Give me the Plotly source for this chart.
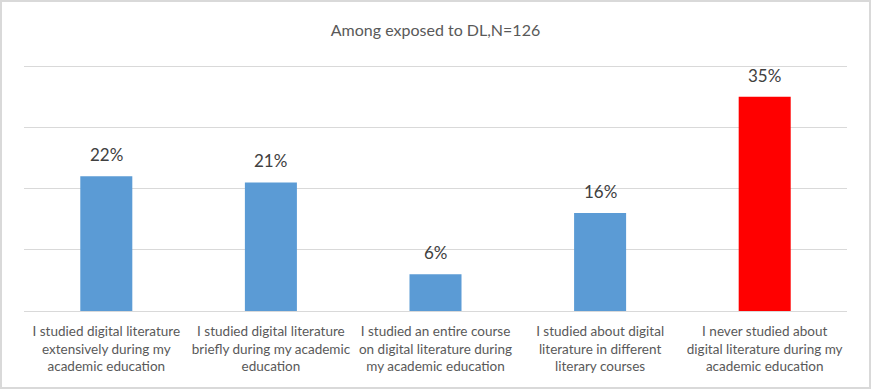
import plotly.graph_objects as go

categories = [
    "I studied digital literature<br>extensively during my<br>academic education",
    "I studied digital literature<br>briefly during my academic<br>education",
    "I studied an entire course<br>on digital literature during<br>my academic education",
    "I studied about digital<br>literature in different<br>literary courses",
    "I never studied about<br>digital literature during my<br>academic education",
]
values = [22, 21, 6, 16, 35]
labels = ["22%", "21%", "6%", "16%", "35%"]
colors = ["#5B9BD5", "#5B9BD5", "#5B9BD5", "#5B9BD5", "#FF0000"]

FONT = "Lato"
W, H = 871, 389
ML, MR, MT, MB = 24, 24, 63, 78

fig = go.Figure()
fig.add_trace(go.Bar(x=categories, y=values, marker_color=colors, marker_line_width=0, width=0.316,
                     hoverinfo="skip"))

for c, v, t in zip(categories, values, labels):
    fig.add_annotation(x=c, y=v, text=t, showarrow=False, yanchor="bottom", yshift=9,
                       font=dict(family=FONT, size=17, color="#404040"))

pw = W - ML - MR
ph = H - MT - MB
fig.add_shape(type="rect", xref="paper", yref="paper",
              x0=(1 - ML) / pw, x1=(W - 1 - ML) / pw,
              y0=-(MB - 1) / ph,
              y1=(H - 1 - MB) / ph,
              line=dict(color="#D9D9D9", width=2), fillcolor="rgba(0,0,0,0)", layer="below")

fig.update_layout(
    width=W, height=H,
    margin=dict(l=ML, r=MR, t=MT, b=MB, autoexpand=False),
    paper_bgcolor="white", plot_bgcolor="white",
    showlegend=False,
    title=dict(text="Among exposed to DL,N=126", x=0.5, xanchor="center",
               xref="paper", yref="container", y=1 - 30 / H, yanchor="middle",
               automargin=False,
               font=dict(family=FONT, size=16, color="#595959")),
    xaxis=dict(showline=True, linecolor="#D9D9D9", linewidth=1, ticks="", showgrid=False,
               automargin=False, ticklabelstandoff=8,
               tickfont=dict(family=FONT, size=13.5, color="#595959")),
    yaxis=dict(range=[0, 40.5], dtick=10, showticklabels=False, showgrid=True, gridcolor="#D9D9D9",
               zeroline=False, ticks="", automargin=False),
    bargap=0.684,
)

fig.write_html("out.html", config={"displayModeBar": False},
               post_script="document.body.style.margin='0';document.body.style.overflow='hidden';")
